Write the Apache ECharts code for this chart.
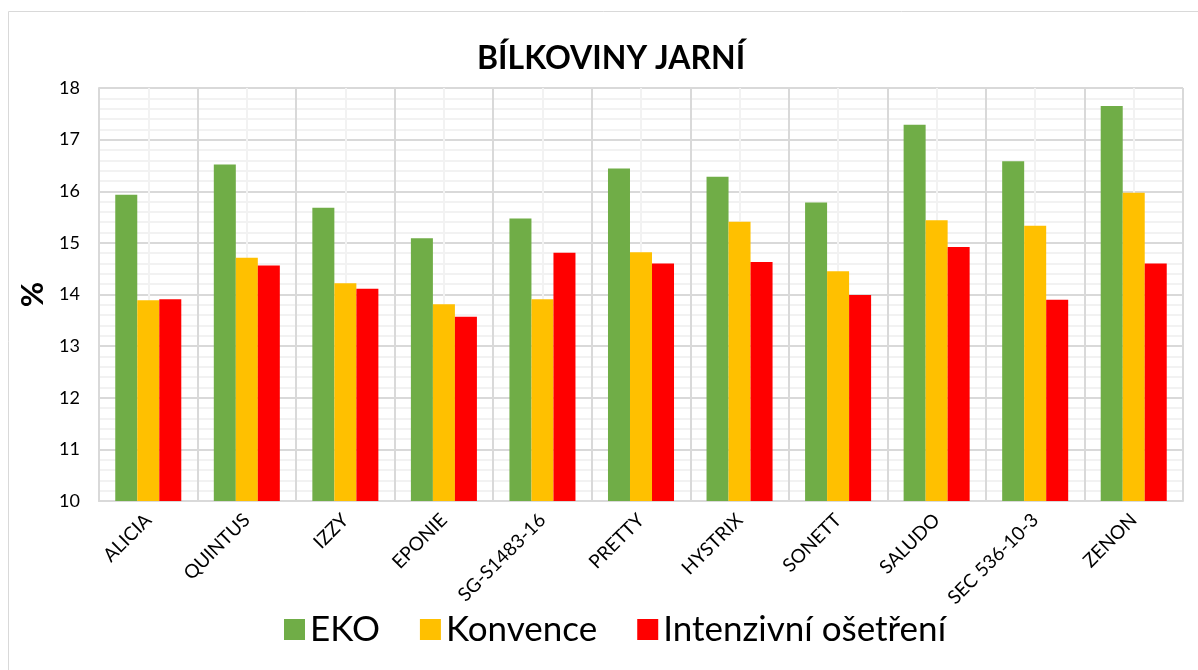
<!DOCTYPE html>
<html>
<head>
<meta charset="utf-8">
<script src="https://cdn.jsdelivr.net/npm/echarts@6/dist/echarts.min.js"></script>
<style>
html,body{margin:0;padding:0;background:#fff;}
#chart{width:1198px;height:670px;}
</style>
</head>
<body>
<div id="chart"></div>
<script>
var odrudy = ['ALICIA','QUINTUS','IZZY','EPONIE','SG-S1483-16','PRETTY','HYSTRIX','SONETT','SALUDO','SEC 536-10-3','ZENON'];
var eko = [15.93,16.52,15.68,15.09,15.47,16.44,16.28,15.78,17.29,16.58,17.65];
var konvence = [13.89,14.71,14.22,13.81,13.91,14.82,15.41,14.45,15.44,15.33,15.97];
var intenzivni = [13.91,14.56,14.11,13.57,14.81,14.60,14.63,13.99,14.92,13.90,14.60];
var yTicks = [10,11,12,13,14,15,16,17,18];

var font = 'Lato';
var chart = echarts.init(document.getElementById('chart'));

var option = {
	animation:false,
	textStyle:{fontFamily:font},
	graphic:[{
		type:'rect',
		shape:{x:8.5,y:11.5,width:1200,height:670},
		style:{fill:'none',stroke:'#d9d9d9',lineWidth:1}
	}],
	title:{
		text:'BÍLKOVINY JARNÍ',
		left:472,
		top:38,
		textStyle:{fontSize:32,fontWeight:'bold',color:'#000',fontFamily:font}
	},
	legend:{
		bottom:18,
		left:279,
		icon:'rect',
		itemWidth:21,
		itemHeight:21,
		itemGap:40,
		textStyle:{fontSize:35,color:'#000',fontFamily:font},
		data:['EKO','Konvence','Intenzivní ošetření']
	},
	grid:{left:99,right:15,top:88,bottom:169,outerBoundsMode:'none'},
	xAxis:[{
		type:'category',
		data:odrudy,
		axisLine:{lineStyle:{color:'#d9d9d9',width:2}},
		axisTick:{show:false},
		splitLine:{show:false},
		axisLabel:{rotate:45,fontSize:19,color:'#000',margin:16,fontFamily:font,interval:0,hideOverlap:false}
	},{
		type:'value',
		min:0,max:odrudy.length,interval:1,
		show:true,
		axisLine:{show:false},axisTick:{show:false},axisLabel:{show:false},
		splitLine:{show:true,lineStyle:{color:'#d9d9d9',width:2}},
		minorTick:{show:false,splitNumber:2},
		minorSplitLine:{show:true,lineStyle:{color:'#f2f2f2',width:2}}
	}],
	yAxis:{
		type:'value',
		min:yTicks[0],max:yTicks[yTicks.length-1],interval:1,
		name:'%',
		nameLocation:'middle',
		nameRotate:90,
		nameGap:44,
		nameTextStyle:{fontSize:31,fontWeight:'bold',color:'#000',fontFamily:font},
		axisLine:{show:true,lineStyle:{color:'#d9d9d9',width:2}},
		axisTick:{show:false},
		axisLabel:{fontSize:18,color:'#000',margin:19,fontFamily:font},
		splitLine:{lineStyle:{color:'#d9d9d9',width:2}},
		minorTick:{show:false,splitNumber:5},
		minorSplitLine:{show:true,lineStyle:{color:'#f2f2f2',width:2}}
	},
	series:[
		{name:'EKO',type:'bar',data:eko,itemStyle:{color:'#70ad47'},barGap:'0%',barCategoryGap:'33%'},
		{name:'Konvence',type:'bar',data:konvence,itemStyle:{color:'#ffc000'}},
		{name:'Intenzivní ošetření',type:'bar',data:intenzivni,itemStyle:{color:'#ff0000'}}
	]
};
chart.setOption(option);
</script>
</body>
</html>
